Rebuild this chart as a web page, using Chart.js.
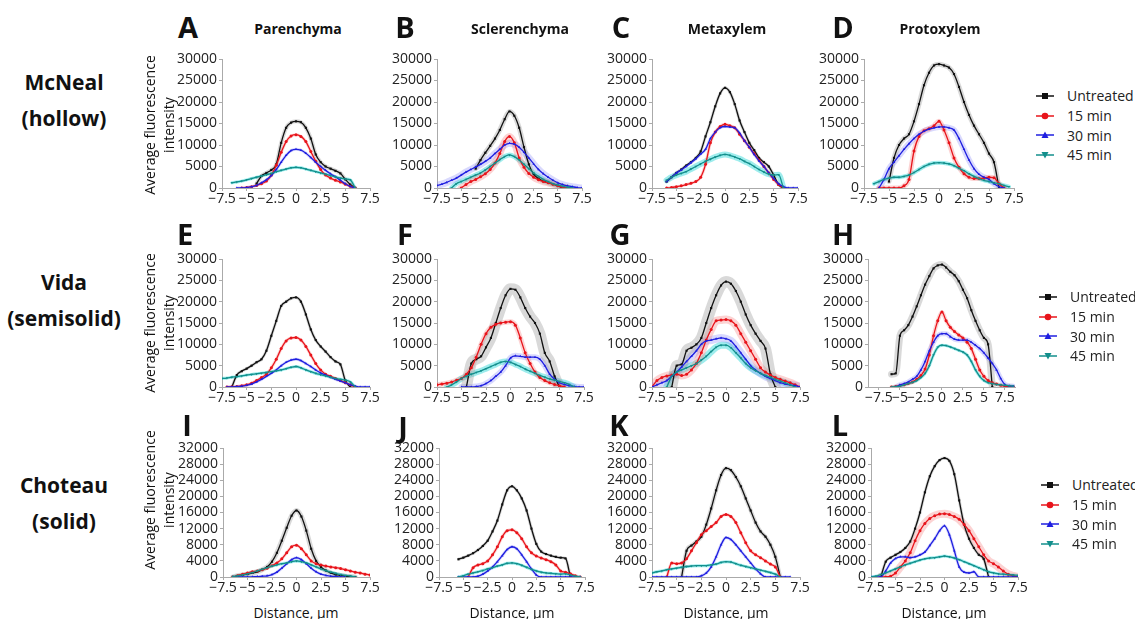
<!DOCTYPE html>
<html>
<head>
<meta charset="utf-8">
<script src="https://cdn.jsdelivr.net/npm/chart.js@4.4.0/dist/chart.umd.min.js"></script>
<style>
  html, body { margin: 0; padding: 0; background: #fff; }
  #fig { position: relative; width: 1135px; height: 619px; overflow: hidden; font-family: 'Open Sans', sans-serif; color: #111; }
  #fig canvas { position: absolute; }
  .txt { position: absolute; white-space: nowrap; transform: translate(-50%, -50%); }
  .letter { font-weight: bold; font-size: 29px; }
  .coltitle { font-weight: bold; font-size: 14px; }
  .rowlabel { font-weight: bold; font-size: 21px; text-align: center; line-height: 36px; }
  .ytitle { font-size: 14px; text-align: center; line-height: 19px; transform: translate(-50%, -50%) rotate(-90deg); }
  .xtitle { font-size: 14px; }
  .legend { position: absolute; font-size: 14px; color: #222; }
  .legend div { height: 19.7px; display: flex; align-items: center; }
  .legend svg { margin-right: 13px; }
</style>
</head>
<body>
<div id="fig"></div>
<script>
// distance axis (µm)
const distance = [-7.5, -7, -6.5, -6, -5.5, -5, -4.5, -4, -3.5, -3, -2.5, -2, -1.5, -1, -0.5, 0,
  0.5, 1, 1.5, 2, 2.5, 3, 3.5, 4, 4.5, 5, 5.5, 6, 6.5, 7, 7.5];
const distanceH = [-6.5, -6, -5.5, -5, -4.5, -4, -3.5, -3, -2.5, -2, -1.5, -1, -0.5, 0, 0.5,
  1, 1.5, 2, 2.5, 3, 3.5, 4, 4.5, 5, 5.5, 6, 6.5, 7, 7.5, 8, 8.5];
const xTickValues = [-7.5, -5, -2.5, 0, 2.5, 5, 7.5];
const seriesNames = ['Untreated', '15 min', '30 min', '45 min'];
const cultivars = [['McNeal', '(hollow)'], ['Vida', '(semisolid)'], ['Choteau', '(solid)']];
const tissues = ['Parenchyma', 'Sclerenchyma', 'Metaxylem', 'Protoxylem'];

// A - McNeal, parenchyma
const untreatedA = [null, null, null, null, null, null, null, 1000, 2800, 3500, 4200, 5500, 10500, 14000, 15200, 15500, 15300, 14000, 11500, 7800, 6000, 5000, 4500, 4000, 3400, 2000, 800, 0, null, null, null];
const min15A = [null, null, null, null, 0, 100, 300, 600, 1000, 1600, 3000, 5300, 8300, 10800, 12100, 12400, 12000, 10800, 8500, 6200, 4300, 3000, 2300, 1800, 1400, 900, 400, 0, null, null, null];
const min30A = [null, null, null, 0, 0, 100, 300, 600, 1200, 1900, 2900, 4300, 6000, 7600, 8700, 9000, 8800, 8100, 7100, 6000, 5000, 4100, 3300, 2600, 1800, 1000, 400, 0, null, null, null];
const min45A = [null, null, 1200, 1400, 1600, 1900, 2200, 2500, 2800, 3100, 3400, 3800, 4100, 4400, 4700, 4800, 4700, 4400, 4100, 3800, 3500, 3200, 2900, 2600, 2300, 2100, 1900, 0, null, null, null];

// B - McNeal, sclerenchyma
const untreatedB = [null, null, null, null, null, null, null, null, 4500, 6500, 8200, 9800, 11500, 13500, 16000, 17800, 16800, 14000, 9500, 5500, 3200, 2200, 1600, 1200, 900, 500, 0, null, null, null, null];
const min15B = [null, null, null, null, null, 0, 800, 1500, 2000, 2600, 3300, 4300, 5800, 8000, 10800, 12000, 10500, 7000, 4800, 3400, 2500, 1900, 1500, 1200, 900, 500, 200, 0, null, null, null];
const min30B = [600, 900, 1300, 1800, 2300, 3000, 3700, 4300, 4900, 5500, 6200, 7000, 8000, 9000, 10000, 10400, 10200, 9500, 8300, 7000, 5600, 4300, 3300, 2500, 1800, 1200, 800, 500, 300, 100, 0];
const min45B = [null, null, null, 0, 1000, 1500, 2000, 2500, 3000, 3500, 4200, 5000, 5800, 6600, 7300, 7700, 7300, 6500, 5500, 4500, 3500, 2700, 2000, 1500, 1000, 700, 400, 200, 0, null, null];

// C - McNeal, metaxylem
const untreatedC = [null, null, null, 1500, 2500, 3500, 4300, 5200, 6000, 7000, 8500, 12000, 15300, 19000, 22000, 23300, 22300, 19500, 15700, 13000, 10500, 8800, 7000, 6000, 5000, 3000, 800, 0, null, null, null];
const min15C = [null, null, null, 0, 100, 300, 500, 800, 1100, 1500, 2500, 5500, 10500, 13000, 14300, 14800, 14500, 14000, 12500, 11000, 9500, 8000, 6500, 5000, 3500, 2000, 800, 0, null, null, null];
const min30C = [null, null, null, 1500, 2500, 3500, 4200, 5000, 5900, 6800, 7900, 9000, 11500, 13000, 14000, 14300, 14200, 14000, 12800, 11000, 9500, 7800, 6300, 5000, 3500, 2200, 1000, 300, 0, 0, 0];
const min45C = [null, null, null, 1800, 2500, 3000, 3400, 3800, 4400, 5000, 5600, 6200, 6700, 7200, 7600, 7800, 7600, 7200, 6800, 6200, 5700, 5000, 4300, 3700, 3200, 3000, 3100, 0, null, null, null];

// D - McNeal, protoxylem
const untreatedD = [null, null, null, null, null, 1500, 7000, 10000, 11500, 12500, 15500, 19500, 23900, 26800, 28500, 28800, 28500, 28000, 26500, 23500, 20000, 17000, 14500, 12500, 10500, 8000, 6000, 0, null, null, null];
const min15D = [null, null, null, 0, 0, 0, 0, 0, 500, 2000, 8600, 12000, 13300, 13800, 14500, 15500, 13500, 10500, 7000, 4800, 3300, 2500, 2200, 2200, 2300, 2500, 2400, 1000, 0, null, null];
const min30D = [null, null, null, 0, 2000, 4500, 6000, 7500, 9000, 10300, 11500, 12500, 13200, 13700, 14000, 14200, 14200, 14000, 13500, 11500, 9000, 6500, 4500, 3200, 2500, 2000, 1000, 300, 0, null, null];
const min45D = [null, null, 1000, 1500, 2000, 2300, 2500, 2500, 2700, 3000, 3600, 4300, 5000, 5500, 5800, 5900, 5800, 5600, 5200, 4600, 4000, 3300, 2700, 2200, 1800, 1500, 1200, 1000, 600, 300, null];

// E - Vida, parenchyma
const untreatedE = [null, null, 0, 2800, 3700, 4300, 5000, 5800, 6500, 8500, 12000, 15500, 19000, 20000, 20800, 21000, 20000, 17000, 13500, 11000, 9500, 8300, 7000, 6000, 5300, 1500, 0, null, null, null, null];
const min15E = [null, 0, 50, 100, 300, 500, 900, 1500, 2200, 3000, 4500, 6500, 9000, 10800, 11500, 11600, 11000, 9500, 7500, 5500, 4000, 3000, 2500, 2000, 1500, 1000, 500, 0, null, null, null];
const min30E = [null, 0, 0, 100, 200, 400, 700, 1200, 1800, 2500, 3200, 4000, 5000, 5800, 6300, 6500, 6200, 5500, 4800, 4000, 3300, 2800, 2300, 1800, 1400, 1000, 500, 200, 0, 0, 0];
const min45E = [2000, 2100, 2300, 2400, 2600, 2800, 2950, 3100, 3250, 3400, 3600, 3800, 4000, 4300, 4600, 4800, 4500, 4000, 3600, 3200, 2900, 2600, 2300, 2000, 1800, 1600, 1200, 0, null, null, null];

// F - Vida, sclerenchyma
const untreatedF = [null, null, null, null, null, null, 0, 5500, 6500, 7200, 9300, 11500, 15000, 18500, 21500, 23000, 22800, 21000, 18500, 16500, 15000, 12500, 8000, 6000, 2500, 0, null, null, null, null, null];
const min15F = [500, 700, 900, 1200, 1600, 2000, 3000, 4500, 7000, 10000, 12500, 14000, 14700, 15000, 15200, 15300, 14500, 11500, 8000, 5500, 3500, 2200, 1500, 1000, 600, 300, 0, null, null, null, null];
const min30F = [null, null, null, null, null, 0, 0, 0, 100, 300, 800, 1500, 2500, 3500, 5000, 6800, 7300, 7200, 7000, 7000, 7000, 6500, 5000, 3000, 1800, 1000, 600, 300, 100, 0, 0];
const min45F = [null, null, 0, 500, 1200, 2000, 2500, 3000, 3400, 3800, 4300, 4800, 5300, 5800, 6000, 5800, 5300, 4800, 4200, 3700, 3200, 2700, 2300, 1900, 1600, 1300, 1000, 600, 0, null, null];

// G - Vida, metaxylem
const untreatedG = [null, null, null, null, 0, 5000, 5300, 8500, 9200, 10000, 11500, 15000, 18500, 21500, 23800, 24700, 24200, 22500, 20000, 17000, 14500, 12500, 10800, 9000, 3000, 0, null, null, null, null, null];
const min15G = [0, 1500, 2200, 2600, 2800, 3000, 2700, 3000, 4000, 5500, 8000, 11000, 13500, 15500, 15700, 15800, 15500, 14500, 12500, 10500, 8500, 6500, 4500, 3500, 2800, 2200, 1800, 1400, 1000, 500, 0];
const min30G = [0, 500, 1000, 1500, 2500, 3500, 4700, 6000, 7200, 8500, 10000, 10800, 11000, 11300, 11500, 11300, 10800, 9500, 8000, 6500, 5000, 4000, 3200, 2500, 2000, 1500, 1000, 700, 500, 300, 0];
const min45G = [null, null, null, 0, 2500, 3500, 4000, 4500, 5000, 5500, 6300, 7200, 8300, 9300, 9800, 9800, 9200, 8000, 6800, 5500, 4500, 3800, 3200, 2700, 2300, 1800, 1400, 1000, 500, 0, null];

// H - Vida, protoxylem (plotted against distanceH)
const untreatedH = [null, 3000, 3200, 12000, 13300, 14500, 16500, 18900, 21500, 24000, 26000, 27800, 28500, 28700, 28000, 27000, 26200, 24800, 22800, 20800, 18000, 15500, 13300, 11500, 10000, 0, null, null, null, null, null];
const min15H = [null, 0, 100, 300, 500, 800, 1200, 1800, 2700, 4200, 7500, 12000, 15500, 17600, 15500, 14000, 13000, 12200, 11500, 10500, 9000, 6500, 4000, 2500, 1500, 1000, 700, 400, 200, 100, 0];
const min30H = [null, null, 0, 500, 800, 1200, 1800, 2500, 4000, 6000, 8500, 10500, 12000, 12500, 12500, 11800, 11200, 11000, 11000, 11000, 10500, 9800, 9000, 8000, 6800, 5500, 4000, 2000, 600, 300, 200];
const min45H = [null, 0, 100, 200, 500, 800, 1100, 1500, 2200, 3200, 5000, 7500, 9300, 9800, 9700, 9400, 9000, 8600, 8200, 7500, 6000, 4000, 2500, 1500, 1000, 800, 600, 500, 400, 300, 200];

// I - Choteau, parenchyma
const untreatedI = [null, null, 0, 300, 500, 700, 1000, 1300, 1800, 2500, 3800, 6000, 9000, 12200, 15200, 16500, 15000, 11500, 7000, 4000, 2500, 1600, 1000, 600, 400, 200, 100, 0, null, null, null];
const min15I = [null, null, 0, 300, 700, 1000, 1300, 1500, 1800, 2200, 2800, 3500, 4500, 6000, 7500, 7900, 7000, 5500, 4000, 3300, 3000, 2700, 2500, 2300, 2100, 1800, 1500, 1200, 1000, 700, 500];
const min30I = [null, null, 0, 0, 0, 0, 50, 100, 200, 300, 600, 1200, 2200, 3300, 4300, 4800, 4300, 3300, 2200, 1300, 700, 400, 200, 100, 0, 0, null, null, null, null, null];
const min45I = [null, null, 100, 300, 500, 800, 1100, 1500, 1900, 2300, 2700, 3000, 3300, 3500, 3800, 4000, 3800, 3500, 3000, 2500, 2000, 1600, 1200, 900, 600, 400, 200, 0, null, null, null];

// J - Choteau, sclerenchyma
const untreatedJ = [null, null, null, null, 4400, 4800, 5300, 5900, 6700, 7700, 9000, 11300, 14000, 18000, 21500, 22500, 21500, 19500, 16500, 12000, 8200, 6300, 5700, 5300, 5000, 4800, 4600, 0, null, null, null];
const min15J = [null, null, null, null, null, null, 0, 2300, 3000, 3300, 4000, 5500, 7500, 10000, 11500, 11700, 11000, 9500, 7500, 6000, 5200, 4700, 4300, 3800, 3000, 1500, 1200, 800, 300, 0, null];
const min30J = [null, null, null, null, 0, 0, 0, 0, 200, 700, 1500, 2500, 3800, 5300, 6800, 7500, 7000, 5500, 3800, 2000, 500, 0, 0, 0, 0, 0, 0, 0, 0, 0, null];
const min45J = [null, null, null, null, 0, 300, 700, 1000, 1300, 1600, 2000, 2300, 2700, 3000, 3400, 3500, 3300, 2900, 2400, 1900, 1500, 1200, 1000, 900, 800, 700, 800, 500, 200, 0, null];

// K - Choteau, metaxylem
const untreatedK = [null, null, null, null, null, null, 0, 6500, 7800, 8800, 10000, 13000, 17000, 21500, 25300, 27000, 26500, 24800, 22500, 19500, 16500, 13500, 11300, 10000, 8000, 5000, 0, null, null, null, null];
const min15K = [null, null, null, 0, 3500, 3300, 3500, 4500, 6500, 8500, 10500, 11500, 12500, 13500, 15000, 15500, 15000, 13500, 11000, 8500, 6500, 5500, 4800, 4000, 3200, 2500, 0, null, null, null, null];
const min30K = [0, 0, 0, 0, 0, 0, 0, 0, 0, 0, 300, 1000, 2500, 5000, 8000, 9800, 9300, 8000, 6500, 5000, 3500, 2000, 800, 0, 0, 0, 0, 0, 0, null, null];
const min45K = [1000, 1300, 1500, 1800, 2000, 2200, 2400, 2600, 2700, 2800, 2800, 2800, 3000, 3200, 3600, 3800, 3700, 3300, 2900, 2600, 2300, 2000, 1700, 1400, 1100, 700, 0, null, null, null, null];

// L - Choteau, protoxylem
const untreatedL = [null, null, 0, 3800, 4800, 5500, 6200, 7200, 8800, 12000, 16000, 21000, 25000, 27500, 29000, 29500, 28800, 25500, 19000, 13000, 9500, 7200, 5500, 4500, 0, null, null, null, null, null, null];
const min15L = [null, null, 0, 0, 200, 1000, 2500, 4000, 6000, 9000, 11500, 13300, 14500, 15200, 15600, 15700, 15500, 15000, 14300, 13000, 11500, 9500, 7500, 5500, 4000, 3300, 2500, 1500, 700, 300, 0];
const min30L = [0, 0, 0, 1500, 3500, 4600, 5000, 5000, 4800, 5000, 5500, 6200, 7800, 9500, 11500, 12700, 10500, 6500, 2500, 1200, 1000, 1300, 0, 0, 0, 0, 0, 0, 0, 0, 0];
const min45L = [0, 200, 600, 1000, 1500, 2000, 2500, 3000, 3400, 3800, 4200, 4500, 4700, 4800, 5000, 5200, 5000, 4700, 4300, 3800, 3300, 2800, 2300, 1800, 1300, 1000, 800, 700, 600, 500, 400];

const lineColors = ['#111111', '#e8141b', '#1f1fe0', '#138f8c'];
const bandColors = ['rgba(160,160,160,0.4)', 'rgba(245,130,130,0.35)', 'rgba(130,130,250,0.3)', 'rgba(40,215,215,0.45)'];
const pointStyles = ['rect', 'circle', 'triangle', 'triangle'];

// plot boxes: [left, top, right, bottom] of each plotting area
const panels = [
  { id: 'A', x: distance, s: [untreatedA, min15A, min30A, min45A], yMax: 30000, yStep: 5000, box: [222, 59, 370, 188], band: [4, 3, 3, 3] },
  { id: 'B', x: distance, s: [untreatedB, min15B, min30B, min45B], yMax: 30000, yStep: 5000, box: [437, 59, 582, 188], band: [5, 7, 7, 5] },
  { id: 'C', x: distance, s: [untreatedC, min15C, min30C, min45C], yMax: 30000, yStep: 5000, box: [652, 59, 798, 188], band: [3, 3, 3, 6] },
  { id: 'D', x: distance, s: [untreatedD, min15D, min30D, min45D], yMax: 30000, yStep: 5000, box: [864, 59, 1014, 188], band: [5, 5, 6, 4] },
  { id: 'E', x: distance, s: [untreatedE, min15E, min30E, min45E], yMax: 30000, yStep: 5000, box: [222, 259, 370, 387], band: [3, 3, 3, 3] },
  { id: 'F', x: distance, s: [untreatedF, min15F, min30F, min45F], yMax: 30000, yStep: 5000, box: [437, 259, 584, 387], band: [11, 5, 6, 6] },
  { id: 'G', x: distance, s: [untreatedG, min15G, min30G, min45G], yMax: 30000, yStep: 5000, box: [652, 259, 800, 387], band: [11, 8, 8, 7] },
  { id: 'H', x: distanceH, s: [untreatedH, min15H, min30H, min45H], yMax: 30000, yStep: 5000, box: [868, 259, 1015, 387], band: [7, 4, 5, 3], xMin: -8.8, xMax: 8.7 },
  { id: 'I', x: distance, s: [untreatedI, min15I, min30I, min45I], yMax: 32000, yStep: 4000, box: [223, 448, 370, 577], band: [5, 3, 3, 3] },
  { id: 'J', x: distance, s: [untreatedJ, min15J, min30J, min45J], yMax: 32000, yStep: 4000, box: [439, 448, 585, 577], band: [3, 3, 3, 3] },
  { id: 'K', x: distance, s: [untreatedK, min15K, min30K, min45K], yMax: 32000, yStep: 4000, box: [652, 448, 800, 577], band: [4, 3, 3, 3] },
  { id: 'L', x: distance, s: [untreatedL, min15L, min30L, min45L], yMax: 32000, yStep: 4000, box: [871, 448, 1018, 577], band: [3, 8, 3, 3] }
];

Chart.defaults.font.family = "'Open Sans', sans-serif";
Chart.defaults.font.size = 14;
Chart.defaults.color = '#222';

const fig = document.getElementById('fig');
const Y_W = 60, X_H = 24, PAD_T = 10, PAD_R = 16;

function minus(v) { return v < 0 ? '\u2212' + Math.abs(v) : String(v); }

panels.forEach(p => {
  const [l, t, r, b] = p.box;
  const w = r - l + Y_W + PAD_R, h = b - t + PAD_T + X_H;
  const cv = document.createElement('canvas');
  cv.width = w; cv.height = h;
  cv.style.left = (l - Y_W) + 'px';
  cv.style.top = (t - PAD_T) + 'px';
  cv.style.width = w + 'px';
  cv.style.height = h + 'px';
  fig.appendChild(cv);

  const datasets = [];
  p.s.forEach((vals, i) => {
    const pts = p.x.map((x, k) => ({ x: x, y: vals[k] }));
    // shaded error band
    datasets.push({
      data: pts, borderColor: bandColors[i], borderWidth: p.band[i], pointRadius: 0,
      borderCapStyle: 'round', borderJoinStyle: 'round', cubicInterpolationMode: 'monotone', order: 10
    });
    datasets.push({
      label: seriesNames[i], data: pts, borderColor: lineColors[i], backgroundColor: lineColors[i],
      borderWidth: 1.3, pointStyle: pointStyles[i], pointRotation: i === 3 ? 180 : 0,
      pointRadius: 1.5, pointBorderWidth: 0, cubicInterpolationMode: 'monotone', order: 4 - i
    });
  });

  new Chart(cv, {
    type: 'line',
    data: { datasets },
    options: {
      responsive: false, animation: false, devicePixelRatio: 1,
      layout: { padding: { top: PAD_T, right: PAD_R, left: 0, bottom: 0 } },
      plugins: { legend: { display: false }, tooltip: { enabled: false } },
      scales: {
        x: {
          type: 'linear', min: p.xMin ?? -7.5, max: p.xMax ?? 7.5,
          afterBuildTicks: s => { s.ticks = xTickValues.map(v => ({ value: v })); },
          afterFit: s => { s.height = X_H; },
          ticks: { autoSkip: false, maxRotation: 0, padding: 0, color: '#222', callback: v => minus(v) },
          grid: { drawOnChartArea: false, tickLength: 3, color: '#aaa' },
          border: { color: '#aaa' }
        },
        y: {
          min: 0, max: p.yMax,
          afterFit: s => { s.width = Y_W; },
          ticks: { stepSize: p.yStep, autoSkip: false, padding: 2, color: '#222', font: { lineHeight: 1 }, callback: v => String(v) },
          grid: { drawOnChartArea: false, tickLength: 3, color: '#aaa' },
          border: { color: '#aaa' }
        }
      }
    }
  });
});

function addText(cls, text, x, y) {
  const d = document.createElement('div');
  d.className = 'txt ' + cls;
  d.innerHTML = text;
  d.style.left = x + 'px';
  d.style.top = y + 'px';
  fig.appendChild(d);
  return d;
}

// panel letters
const letterPos = { A: [188, 26], B: [405, 26], C: [621, 26], D: [843, 26], E: [185, 233], F: [405, 233],
  G: [620, 233], H: [843, 233], I: [187, 424], J: [403, 426], K: [619, 424], L: [840, 424] };
Object.keys(letterPos).forEach(k => addText('letter', k, letterPos[k][0], letterPos[k][1]));

// column titles
[298, 520, 727, 940].forEach((x, i) => addText('coltitle', tissues[i], x, 28));

// row labels
[100, 300, 503].forEach((y, i) => addText('rowlabel', cultivars[i].join('<br>'), 64, y));

// y axis titles (first column)
[125, 323, 500].forEach(y => addText('ytitle', 'Average fluorescence<br>intensity', 159, y));

// x axis titles (bottom row)
[296, 512, 726, 944].forEach(x => addText('xtitle', 'Distance, \u00b5m', x, 612));

// legends
function markerSvg(i) {
  const c = lineColors[i];
  let shape;
  if (i === 0) shape = `<rect x="6" y="2" width="6" height="6" fill="${c}"/>`;
  else if (i === 1) shape = `<circle cx="9" cy="5" r="3.3" fill="${c}"/>`;
  else if (i === 2) shape = `<polygon points="9,1.5 12.5,8 5.5,8" fill="${c}"/>`;
  else shape = `<polygon points="9,8.5 12.5,2 5.5,2" fill="${c}"/>`;
  return `<svg width="18" height="10"><line x1="0" y1="5" x2="18" y2="5" stroke="${c}" stroke-width="1.5"/>${shape}</svg>`;
}
[[1036, 86], [1039, 287], [1041, 475]].forEach(pos => {
  const lg = document.createElement('div');
  lg.className = 'legend';
  lg.style.left = pos[0] + 'px';
  lg.style.top = pos[1] + 'px';
  lg.innerHTML = seriesNames.map((n, i) => `<div>${markerSvg(i)}<span>${n}</span></div>`).join('');
  fig.appendChild(lg);
});
</script>
</body>
</html>
